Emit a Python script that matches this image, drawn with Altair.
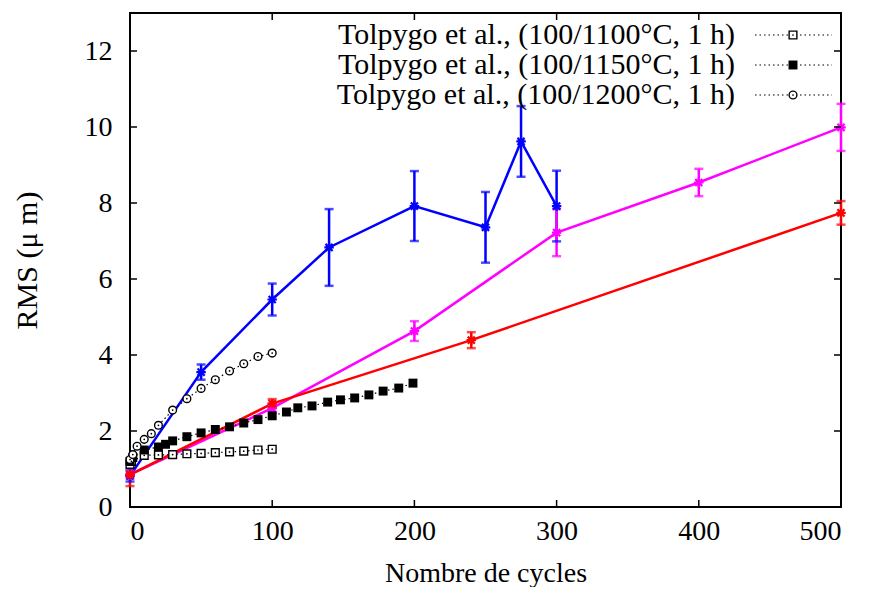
import altair as alt
import pandas as pd

# ---------------- data ----------------
blue_x = [0, 50, 100, 140, 200, 250, 275, 300]
blue_y = [0.82, 3.55, 5.46, 6.83, 7.92, 7.36, 9.62, 7.92]
blue_e = [0.15, 0.20, 0.42, 1.01, 0.92, 0.93, 0.93, 0.93]

mag_x = [0, 100, 200, 300, 400, 500]
mag_y = [0.85, 2.60, 4.63, 7.22, 8.54, 9.99]
mag_e = [0.10, 0.12, 0.26, 0.62, 0.36, 0.62]

red_x = [0, 100, 240, 500]
red_y = [0.85, 2.72, 4.39, 7.74]
red_e = [0.30, 0.12, 0.21, 0.31]

t1100_x = [0, 1, 10, 20, 30, 40, 50, 60, 70, 80, 90, 100]
t1100_y = [1.12, 1.20, 1.36, 1.37, 1.38, 1.40, 1.41, 1.43, 1.45, 1.47, 1.50, 1.52]

t1150_x = [0, 2, 10, 20, 25, 30, 40, 50, 60, 70, 80, 90, 100, 110, 118, 128,
           139, 148, 158, 168, 178, 189, 199]
t1150_y = [1.20, 1.30, 1.50, 1.58, 1.65, 1.74, 1.85, 1.95, 2.04, 2.11, 2.21, 2.30,
           2.40, 2.50, 2.61, 2.66, 2.76, 2.82, 2.87, 2.95, 3.05, 3.13, 3.26]

t1200_x = [0, 2, 5, 10, 15, 20, 30, 40, 50, 60, 70, 80, 90, 100]
t1200_y = [1.25, 1.38, 1.60, 1.78, 1.93, 2.15, 2.55, 2.85, 3.12, 3.35, 3.58, 3.77, 3.96, 4.05]

legend_labels = ["Tolpygo et al., (100/1100°C, 1 h)",
                 "Tolpygo et al., (100/1150°C, 1 h)",
                 "Tolpygo et al., (100/1200°C, 1 h)"]

x_ticks = [0, 100, 200, 300, 400, 500]
y_ticks = [0, 2, 4, 6, 8, 10, 12]

# ---------------- tables ----------------
def colored(name, xs, ys, es):
    return pd.DataFrame({"serie": name, "x": xs, "y": ys, "lo": [a - b for a, b in zip(ys, es)],
                         "hi": [a + b for a, b in zip(ys, es)]})

col_df = pd.concat([colored("bleu", blue_x, blue_y, blue_e),
                    colored("magenta", mag_x, mag_y, mag_e),
                    colored("rouge", red_x, red_y, red_e)], ignore_index=True)

tol = {
    "t1100": pd.DataFrame({"serie": "t1100", "x": t1100_x, "y": t1100_y}),
    "t1150": pd.DataFrame({"serie": "t1150", "x": t1150_x, "y": t1150_y}),
    "t1200": pd.DataFrame({"serie": "t1200", "x": t1200_x, "y": t1200_y}),
}
tol_df = pd.concat(tol.values(), ignore_index=True)

W, H = 711, 494
FONT = "Liberation Serif"
FS = 28
FS_LEG = 30

xs = alt.Scale(domain=[0, 500], nice=False, zero=False)
ys = alt.Scale(domain=[0, 13], nice=False, zero=False)
cscale = alt.Scale(domain=["bleu", "magenta", "rouge"], range=["#0000ff", "#ff00ff", "#ff0000"])

X = alt.X("x:Q", scale=xs, axis=alt.Axis(values=x_ticks, title="Nombre de cycles"))
Y = alt.Y("y:Q", scale=ys, axis=alt.Axis(values=y_ticks, title="RMS (μ  m)", titleFontSize=30))

star = "M-1,0L1,0M0,-1L0,1M-0.75,-0.75L0.75,0.75M-0.75,0.75L0.75,-0.75"

base_c = alt.Chart(col_df)
lines_c = base_c.mark_line(strokeWidth=2.5).encode(
    x=X, y=Y, color=alt.Color("serie:N", scale=cscale, legend=None), detail="serie:N")
err_c = base_c.mark_rule(strokeWidth=2.5).encode(
    x="x:Q", y="lo:Q", y2="hi:Q", color=alt.Color("serie:N", scale=cscale, legend=None))
cap_lo = base_c.mark_tick(orient="horizontal", size=9, thickness=2.5).encode(
    x="x:Q", y="lo:Q", color=alt.Color("serie:N", scale=cscale, legend=None))
cap_hi = base_c.mark_tick(orient="horizontal", size=9, thickness=2.5).encode(
    x="x:Q", y="hi:Q", color=alt.Color("serie:N", scale=cscale, legend=None))
pts_c = base_c.mark_point(shape=star, size=90, strokeWidth=2.2, filled=False, opacity=1).encode(
    x="x:Q", y="y:Q", color=alt.Color("serie:N", scale=cscale, legend=None))

dot_lines = alt.Chart(tol_df).mark_line(color="black", strokeWidth=1.2, strokeDash=[1.5, 3]).encode(
    x="x:Q", y="y:Q", detail="serie:N")

sq_open = alt.Chart(tol["t1100"]).mark_point(shape="square", size=60, filled=False, fill="white",
                                             fillOpacity=1, stroke="black", strokeWidth=1.4,
                                             opacity=1).encode(x="x:Q", y="y:Q")
sq_full = alt.Chart(tol["t1150"]).mark_point(shape="square", size=80, filled=True, color="black",
                                             opacity=1).encode(x="x:Q", y="y:Q")
circ = alt.Chart(tol["t1200"]).mark_point(shape="circle", size=60, filled=False, fill="white",
                                          fillOpacity=1, stroke="black", strokeWidth=1.4,
                                          opacity=1).encode(x="x:Q", y="y:Q")
centers = alt.Chart(pd.concat([tol["t1100"], tol["t1200"]])).mark_point(
    shape="circle", size=3, filled=True, color="black", opacity=1).encode(x="x:Q", y="y:Q")

# mirrored inward ticks
TL = 7
yt = alt.Chart(pd.DataFrame({"y": y_ticks}))
xt = alt.Chart(pd.DataFrame({"x": x_ticks}))
tick_layers = [
    yt.mark_rule(color="black", strokeWidth=1.5).encode(y="y:Q", x=alt.value(0), x2=alt.value(TL)),
    yt.mark_rule(color="black", strokeWidth=1.5).encode(y="y:Q", x=alt.value(W - TL), x2=alt.value(W)),
    xt.mark_rule(color="black", strokeWidth=1.5).encode(x="x:Q", y=alt.value(H - TL), y2=alt.value(H)),
    xt.mark_rule(color="black", strokeWidth=1.5).encode(x="x:Q", y=alt.value(0), y2=alt.value(TL)),
]

# legend (top right, symbol to the right of the text)
leg_layers = []
leg_y0, leg_dy = 22, 30
text_right, smp_l, smp_r, smp_c = 605, 625, 702, 663
shapes = [("square", False, 60), ("square", True, 80), ("circle", False, 60)]
for i, lab in enumerate(legend_labels):
    yy = leg_y0 + leg_dy * i
    one = alt.Chart(pd.DataFrame({"t": [lab]}))
    leg_layers.append(one.mark_text(align="right", baseline="middle", font=FONT, fontSize=FS_LEG,
                                    color="black").encode(text="t:N", x=alt.value(text_right),
                                                          y=alt.value(yy)))
    leg_layers.append(one.mark_rule(color="black", strokeWidth=1.2, strokeDash=[1.5, 3]).encode(
        x=alt.value(smp_l), x2=alt.value(smp_r), y=alt.value(yy)))
    shp, fld, sz = shapes[i]
    if fld:
        leg_layers.append(one.mark_point(shape=shp, size=sz, filled=True, color="black",
                                         opacity=1).encode(x=alt.value(smp_c), y=alt.value(yy)))
    else:
        leg_layers.append(one.mark_point(shape=shp, size=sz, filled=False, fill="white",
                                         fillOpacity=1, stroke="black", strokeWidth=1.4,
                                         opacity=1).encode(x=alt.value(smp_c), y=alt.value(yy)))
        leg_layers.append(one.mark_point(shape="circle", size=3, filled=True, color="black",
                                         opacity=1).encode(x=alt.value(smp_c), y=alt.value(yy)))

chart = alt.layer(
    lines_c, err_c, cap_lo, cap_hi, pts_c,
    dot_lines, sq_open, sq_full, circ, centers,
    *tick_layers, *leg_layers
).properties(
    width=W, height=H,
    autosize=alt.AutoSizeParams(type="none"),
    padding={"left": 122, "top": 5, "right": 20, "bottom": 80},
).configure_view(
    stroke="black", strokeWidth=2
).configure_axis(
    domain=False, ticks=False, grid=False,
    labelFont=FONT, labelFontSize=FS, labelColor="black",
    titleFont=FONT, titleFontSize=FS, titleColor="black", titleFontWeight="normal",
).configure_axisY(
    labelPadding=18, titlePadding=42
).configure_axisX(
    labelPadding=10, titlePadding=14
)

chart.save("out.html", embed_options={"renderer": "svg", "actions": False})
